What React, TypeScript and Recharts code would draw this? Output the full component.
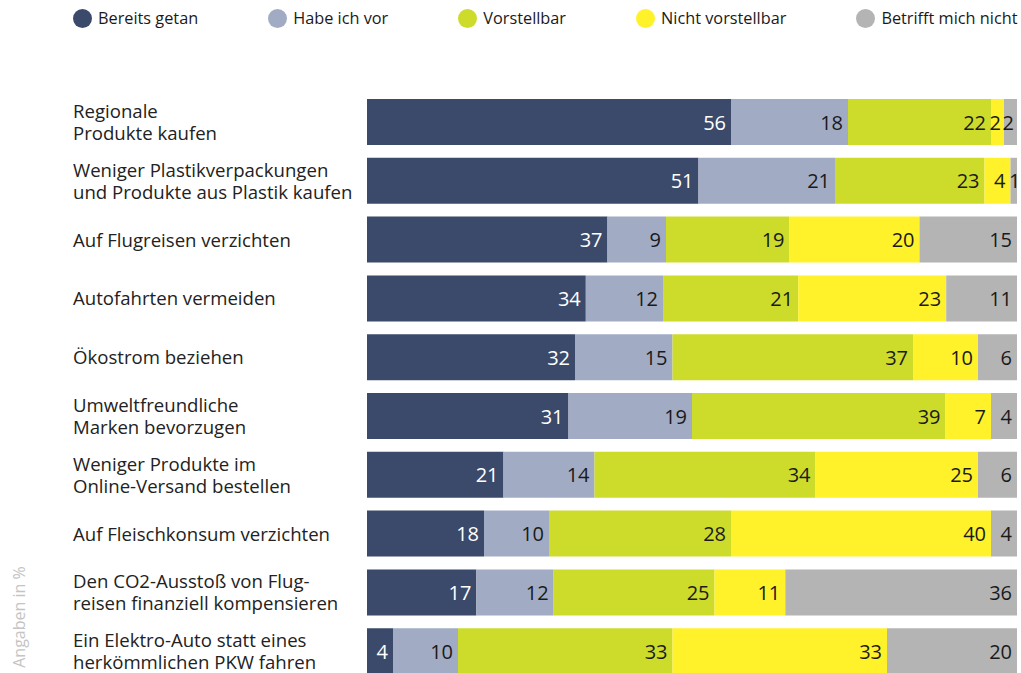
import React from 'react';
import { BarChart, Bar, XAxis, YAxis, LabelList } from 'recharts';

const CATEGORIES = [
  'Regionale\nProdukte kaufen',
  'Weniger Plastikverpackungen\nund Produkte aus Plastik kaufen',
  'Auf Flugreisen verzichten',
  'Autofahrten vermeiden',
  'Ökostrom beziehen',
  'Umweltfreundliche\nMarken bevorzugen',
  'Weniger Produkte im\nOnline-Versand bestellen',
  'Auf Fleischkonsum verzichten',
  'Den CO2-Ausstoß von Flug-\nreisen finanziell kompensieren',
  'Ein Elektro-Auto statt eines\nherkömmlichen PKW fahren',
];

const BEREITS = [56, 51, 37, 34, 32, 31, 21, 18, 17, 4];
const HABE = [18, 21, 9, 12, 15, 19, 14, 10, 12, 10];
const VORSTELLBAR = [22, 23, 19, 21, 37, 39, 34, 28, 25, 33];
const NICHT = [2, 4, 20, 23, 10, 7, 25, 40, 11, 33];
const BETRIFFT = [2, 1, 15, 11, 6, 4, 6, 4, 36, 20];

const SERIES = [
  { key: 'bereits', name: 'Bereits getan', color: '#3b4a6b', text: '#ffffff', values: BEREITS },
  { key: 'habe', name: 'Habe ich vor', color: '#a1acc4', text: '#1a1a1a', values: HABE },
  { key: 'vorstellbar', name: 'Vorstellbar', color: '#cddc2a', text: '#1a1a1a', values: VORSTELLBAR },
  { key: 'nicht', name: 'Nicht vorstellbar', color: '#fff22b', text: '#1a1a1a', values: NICHT },
  { key: 'betrifft', name: 'Betrifft mich nicht', color: '#b4b4b4', text: '#1a1a1a', values: BETRIFFT },
];

const data = CATEGORIES.map((name, i) => {
  const row: Record<string, string | number> = { name };
  SERIES.forEach((s) => {
    row[s.key] = s.values[i];
  });
  return row;
});

const FONT = '"Open Sans", Lato, sans-serif';

const CategoryTick = (props: any) => {
  const { y, payload } = props;
  const lines = String(payload.value).split('\n');
  const top = y - 1.5 - (lines.length - 1) * 11;
  return (
    <text fontFamily={FONT} fontSize={18.6} fill="#222" textAnchor="start" dominantBaseline="central">
      {lines.map((line, i) => (
        <tspan key={i} x={73} y={top + i * 22}>
          {line}
        </tspan>
      ))}
    </text>
  );
};

// right-aligned inside the segment, but never starting left of it
const makeValueLabel = (fill: string) => (props: any) => {
  const { x, y, width, height, value } = props;
  const textW = String(value).length * 10;
  const right = Math.max(x + width - 5, x + textW);
  return (
    <text
      x={right}
      y={y + height / 2}
      textAnchor="end"
      dominantBaseline="central"
      fill={fill}
      fontSize={20}
      fontFamily={FONT}
    >
      {value}
    </text>
  );
};

const App = () => {
  return (
    <div style={{ position: 'absolute', left: 0, top: 0, width: 1021, height: 673, overflow: 'hidden', background: '#fff', fontFamily: FONT }}>
      <div style={{ position: 'absolute', left: 73, top: 8, display: 'flex', gap: 70, alignItems: 'center' }}>
        {SERIES.map((s) => (
          <div key={s.key} style={{ display: 'flex', alignItems: 'center', fontSize: 16.3, color: '#1a1a1a', whiteSpace: 'nowrap', height: 20 }}>
            <span style={{ width: 19, height: 19, borderRadius: '50%', background: s.color, display: 'inline-block', marginRight: 6 }} />
            {s.name}
          </div>
        ))}
      </div>
      <div
        style={{
          position: 'absolute',
          left: 19,
          top: 617,
          transform: 'translate(-50%, -50%) rotate(-90deg)',
          fontSize: 16,
          color: '#c4c4c4',
          whiteSpace: 'nowrap',
        }}
      >
        Angaben in %
      </div>
      <BarChart
        width={1021}
        height={700}
        data={data}
        layout="vertical"
        stackOffset="expand"
        margin={{ top: 93, right: 4, bottom: 19, left: 0 }}
        barSize={46}
      >
        <XAxis type="number" domain={[0, 1]} hide />
        <YAxis
          dataKey="name"
          type="category"
          width={367}
          tick={<CategoryTick />}
          tickLine={false}
          axisLine={false}
          interval={0}
        />
        {SERIES.map((s) => (
          <Bar key={s.key} dataKey={s.key} name={s.name} stackId="a" fill={s.color} isAnimationActive={false}>
            <LabelList dataKey={s.key} content={makeValueLabel(s.text)} />
          </Bar>
        ))}
      </BarChart>
    </div>
  );
};

export default App;
